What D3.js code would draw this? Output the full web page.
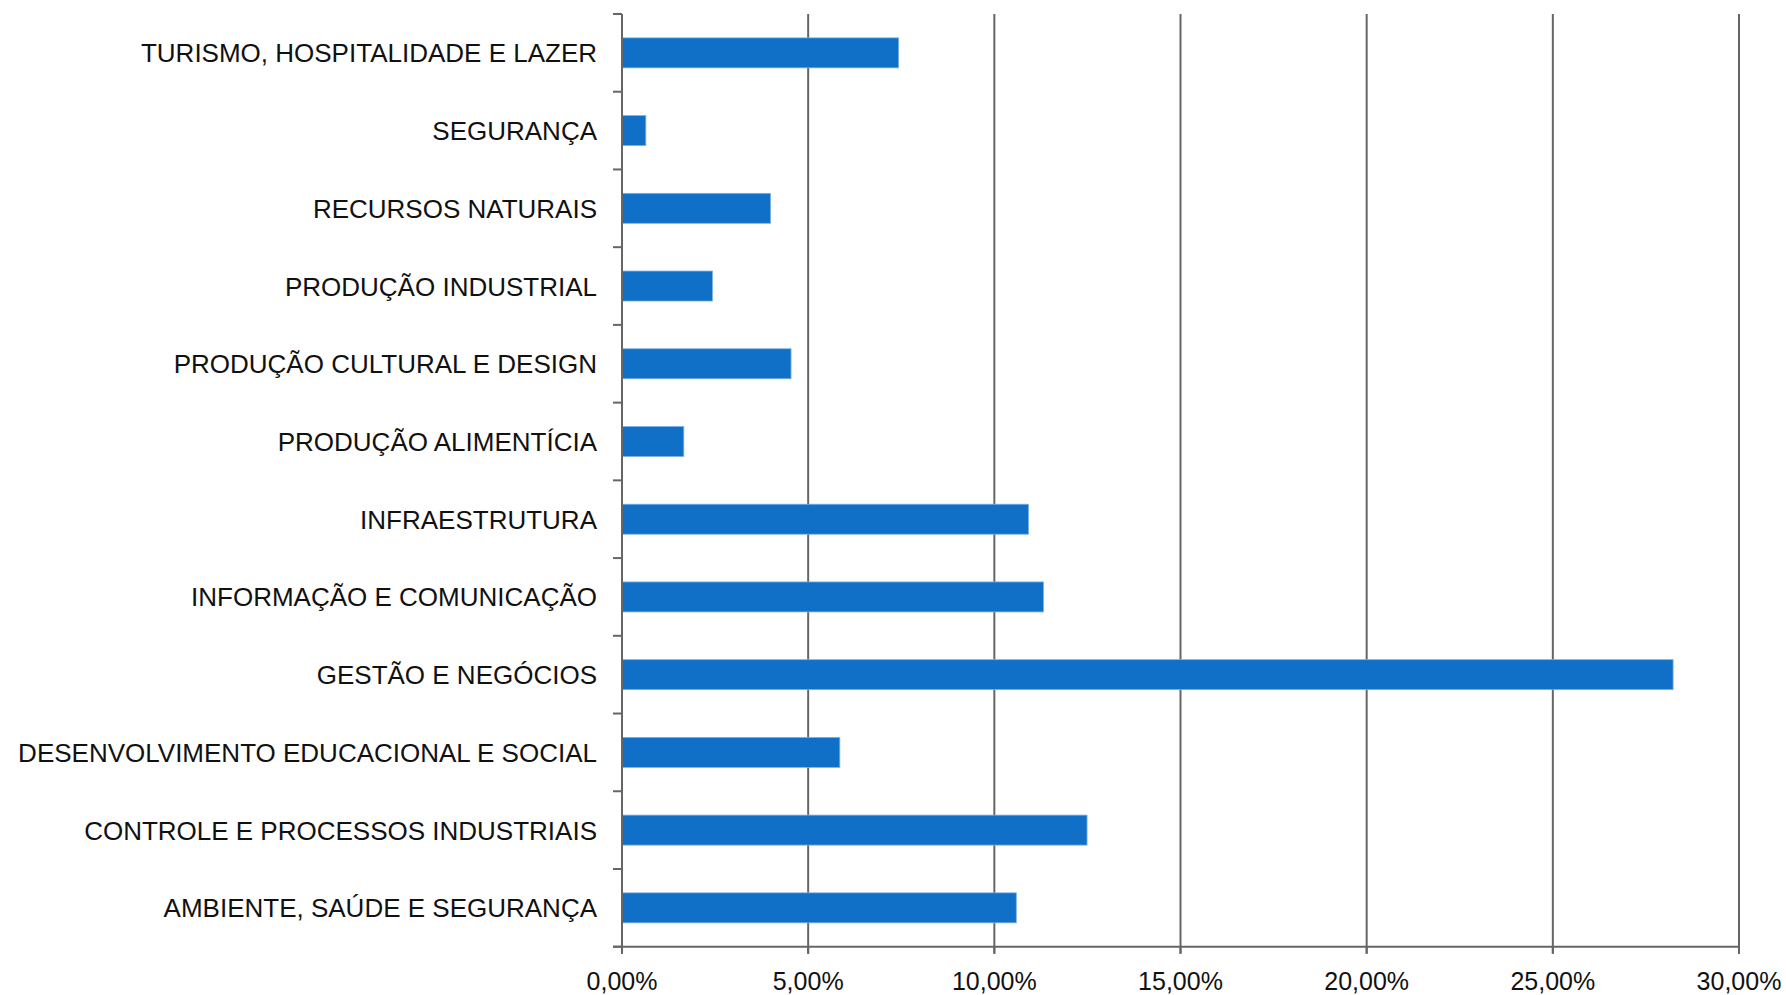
<!DOCTYPE html>
<html>
<head>
<meta charset="utf-8">
<script src="https://cdn.jsdelivr.net/npm/d3@7"></script>
<style>
  html, body { margin: 0; padding: 0; background: #fff; }
  svg { display: block; }
  .cat { font-family: "Liberation Sans Narrow", "Liberation Sans", sans-serif; font-size: 26px; fill: #111; }
  .tick-label { font-family: "Liberation Sans Narrow", "Liberation Sans", sans-serif; font-size: 25px; fill: #111; }
</style>
</head>
<body>
<svg id="chart" width="1786" height="995"></svg>
<script>
// Eixos tecnológicos, de cima para baixo
const categories = [
  "TURISMO, HOSPITALIDADE E LAZER",
  "SEGURANÇA",
  "RECURSOS NATURAIS",
  "PRODUÇÃO INDUSTRIAL",
  "PRODUÇÃO CULTURAL E DESIGN",
  "PRODUÇÃO ALIMENTÍCIA",
  "INFRAESTRUTURA",
  "INFORMAÇÃO E COMUNICAÇÃO",
  "GESTÃO E NEGÓCIOS",
  "DESENVOLVIMENTO EDUCACIONAL E SOCIAL",
  "CONTROLE E PROCESSOS INDUSTRIAIS",
  "AMBIENTE, SAÚDE E SEGURANÇA"
];
// Percentual de cada eixo
const values = [7.43, 0.64, 3.99, 2.43, 4.54, 1.66, 10.92, 11.32, 28.23, 5.85, 12.49, 10.59];
// Marcas do eixo horizontal
const xTicks = [0, 5, 10, 15, 20, 25, 30];
const xTickLabels = ["0,00%", "5,00%", "10,00%", "15,00%", "20,00%", "25,00%", "30,00%"];

const svg = d3.select("#chart");
const plotLeft = 622, plotRight = 1739, plotTop = 14, plotBottom = 946.7;
const axisColor = "#666";

const x = d3.scaleLinear().domain([0, 30]).range([plotLeft, plotRight]);
const y = d3.scaleBand().domain(categories).range([plotTop, plotBottom])
  .paddingInner(0.614).paddingOuter(0.307);
const step = y.step();

// Linhas de grade verticais
svg.append("g").selectAll("line").data(xTicks.slice(1)).join("line")
  .attr("x1", d => x(d)).attr("x2", d => x(d))
  .attr("y1", plotTop).attr("y2", plotBottom + 7)
  .attr("stroke", axisColor).attr("stroke-width", 2);

// Barras
svg.append("g").selectAll("rect").data(values).join("rect")
  .attr("x", x(0))
  .attr("y", (d, i) => y(categories[i]))
  .attr("width", d => x(d) - x(0))
  .attr("height", y.bandwidth())
  .attr("fill", "#106fc6")
  .attr("stroke", "#7fb1e3").attr("stroke-width", 0.8);

// Eixo vertical com marcas nas divisões das categorias
const axisG = svg.append("g");
axisG.append("line")
  .attr("x1", plotLeft).attr("x2", plotLeft).attr("y1", plotTop).attr("y2", plotBottom + 7)
  .attr("stroke", axisColor).attr("stroke-width", 2);
const bounds = d3.range(categories.length + 1).map(i => plotTop + i * step);
axisG.selectAll("line.ytick").data(bounds).join("line").attr("class", "ytick")
  .attr("x1", plotLeft - 9).attr("x2", plotLeft).attr("y1", d => d).attr("y2", d => d)
  .attr("stroke", axisColor).attr("stroke-width", 2);

// Eixo horizontal
axisG.append("line")
  .attr("x1", plotLeft - 9).attr("x2", plotRight).attr("y1", plotBottom).attr("y2", plotBottom)
  .attr("stroke", axisColor).attr("stroke-width", 2);
axisG.selectAll("line.xtick").data(xTicks).join("line").attr("class", "xtick")
  .attr("x1", d => x(d)).attr("x2", d => x(d)).attr("y1", plotBottom).attr("y2", plotBottom + 7)
  .attr("stroke", axisColor).attr("stroke-width", 2);

// Rótulos do eixo horizontal
svg.append("g").selectAll("text").data(xTicks).join("text")
  .attr("class", "tick-label")
  .attr("x", d => x(d)).attr("y", 990)
  .attr("text-anchor", "middle")
  .text((d, i) => xTickLabels[i]);

// Rótulos das categorias
svg.append("g").selectAll("text").data(categories).join("text")
  .attr("class", "cat")
  .attr("x", 597).attr("y", d => y(d) + y.bandwidth() / 2 + 9.5)
  .attr("text-anchor", "end")
  .text(d => d);
</script>
</body>
</html>
